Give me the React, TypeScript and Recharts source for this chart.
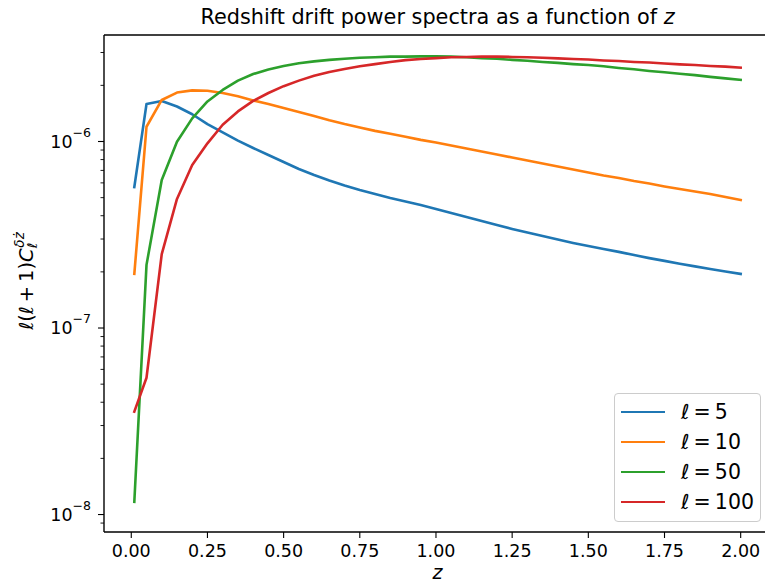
import {
  LineChart,
  Line,
  XAxis,
  YAxis,
  Legend,
  ReferenceLine,
  Customized,
} from "recharts";

// redshift samples
const zValues = [
  0.01, 0.05, 0.1, 0.15, 0.2, 0.25, 0.3, 0.35, 0.4, 0.45, 0.5, 0.55, 0.6, 0.65,
  0.7, 0.75, 0.8, 0.85, 0.9, 0.95, 1.0, 1.05, 1.1, 1.15, 1.2, 1.25, 1.3, 1.35,
  1.4, 1.45, 1.5, 1.55, 1.6, 1.65, 1.7, 1.75, 1.8, 1.85, 1.9, 1.95, 2.0,
];

// l(l+1) C_l values
const ell5 = [
  5.7e-7, 1.59e-6, 1.65e-6, 1.54e-6, 1.4e-6, 1.24e-6, 1.12e-6, 1.01e-6, 9.23e-7,
  8.46e-7, 7.76e-7, 7.12e-7, 6.61e-7, 6.18e-7, 5.81e-7, 5.49e-7, 5.23e-7,
  4.98e-7, 4.77e-7, 4.56e-7, 4.35e-7, 4.14e-7, 3.94e-7, 3.75e-7, 3.57e-7,
  3.4e-7, 3.25e-7, 3.11e-7, 2.98e-7, 2.86e-7, 2.75e-7, 2.65e-7, 2.56e-7,
  2.46e-7, 2.37e-7, 2.29e-7, 2.21e-7, 2.14e-7, 2.07e-7, 2.01e-7, 1.95e-7,
];
const ell10 = [
  1.95e-7, 1.2e-6, 1.67e-6, 1.83e-6, 1.88e-6, 1.87e-6, 1.82e-6, 1.75e-6, 1.66e-6,
  1.59e-6, 1.51e-6, 1.44e-6, 1.37e-6, 1.3e-6, 1.24e-6, 1.19e-6, 1.14e-6, 1.1e-6,
  1.06e-6, 1.02e-6, 9.88e-7, 9.52e-7, 9.17e-7, 8.84e-7, 8.52e-7, 8.21e-7,
  7.91e-7, 7.62e-7, 7.35e-7, 7.08e-7, 6.82e-7, 6.57e-7, 6.37e-7, 6.14e-7,
  5.95e-7, 5.74e-7, 5.56e-7, 5.39e-7, 5.23e-7, 5.04e-7, 4.86e-7,
];
const ell50 = [
  1.17e-8, 2.18e-7, 6.22e-7, 9.97e-7, 1.33e-6, 1.64e-6, 1.89e-6, 2.12e-6, 2.3e-6,
  2.43e-6, 2.54e-6, 2.63e-6, 2.69e-6, 2.74e-6, 2.78e-6, 2.81e-6, 2.83e-6,
  2.85e-6, 2.85e-6, 2.86e-6, 2.86e-6, 2.85e-6, 2.83e-6, 2.8e-6, 2.78e-6,
  2.74e-6, 2.71e-6, 2.67e-6, 2.64e-6, 2.6e-6, 2.57e-6, 2.53e-6, 2.48e-6,
  2.44e-6, 2.39e-6, 2.35e-6, 2.31e-6, 2.27e-6, 2.22e-6, 2.18e-6, 2.14e-6,
];
const ell100 = [
  3.56e-8, 5.41e-8, 2.49e-7, 4.92e-7, 7.48e-7, 9.78e-7, 1.23e-6, 1.45e-6,
  1.65e-6, 1.82e-6, 1.98e-6, 2.12e-6, 2.25e-6, 2.36e-6, 2.45e-6, 2.53e-6,
  2.6e-6, 2.67e-6, 2.73e-6, 2.77e-6, 2.8e-6, 2.83e-6, 2.84e-6, 2.85e-6, 2.85e-6,
  2.84e-6, 2.83e-6, 2.81e-6, 2.79e-6, 2.77e-6, 2.75e-6, 2.72e-6, 2.7e-6,
  2.67e-6, 2.65e-6, 2.62e-6, 2.59e-6, 2.57e-6, 2.54e-6, 2.52e-6, 2.49e-6,
];

const ells = [5, 10, 50, 100];
const colors = ["#1f77b4", "#ff7f0e", "#2ca02c", "#d62728"];
const seriesKeys = ["l5", "l10", "l50", "l100"];

const xTicks = [0, 0.25, 0.5, 0.75, 1.0, 1.25, 1.5, 1.75, 2.0];
const yTicks = [
  9e-9, 1e-8, 2e-8, 3e-8, 4e-8, 5e-8, 6e-8, 7e-8, 8e-8, 9e-8, 1e-7, 2e-7, 3e-7,
  4e-7, 5e-7, 6e-7, 7e-7, 8e-7, 9e-7, 1e-6, 2e-6, 3e-6,
];

const X_DOMAIN = [-0.0895, 2.0995];
const Y_DOMAIN = [8.06e-9, 3.724e-6];

const data = zValues.map((z, i) => ({
  z,
  l5: ell5[i],
  l10: ell10[i],
  l50: ell50[i],
  l100: ell100[i],
}));

const FONT = "'DejaVu Sans', sans-serif";

const XTick = ({ x, y, payload }: any) => (
  <g>
    <line x1={x} x2={x} y1={y} y2={y + 6} stroke="#000" strokeWidth={1.1} />
    <text
      x={x}
      y={y + 25}
      textAnchor="middle"
      fontSize={17.5}
      fontFamily={FONT}
      fill="#000"
    >
      {Number(payload.value).toFixed(2)}
    </text>
  </g>
);

const YTick = ({ x, y, payload }: any) => {
  const v = payload.value;
  const exp = Math.round(Math.log10(v));
  const major = Math.abs(v / Math.pow(10, exp) - 1) < 1e-6;
  return (
    <g>
      <line
        x1={x - (major ? 6 : 3.5)}
        x2={x}
        y1={y}
        y2={y}
        stroke="#000"
        strokeWidth={major ? 1.1 : 0.9}
      />
      {major && (
        <text
          x={x - 13}
          y={y + 6}
          textAnchor="end"
          fontSize={17.5}
          fontFamily={FONT}
          fill="#000"
        >
          10
          <tspan dy={-11} fontSize={12.5}>
            {"\u2212" + Math.abs(exp)}
          </tspan>
        </text>
      )}
    </g>
  );
};

const Labels = () => (
  <g fontFamily={FONT} fill="#000">
    <text x={437.5} y={24} textAnchor="middle" fontSize={20.8}>
      Redshift drift power spectra as a function of{" "}
      <tspan fontStyle="italic">z</tspan>
    </text>
    <text x={437.5} y={579} textAnchor="middle" fontSize={19} fontStyle="italic">
      z
    </text>
    <text
      transform="translate(33, 281) rotate(-90)"
      textAnchor="middle"
      fontSize={19.5}
    >
      <tspan fontStyle="italic">ℓ</tspan>(<tspan fontStyle="italic">ℓ</tspan>
      {"\u2009+\u20091)"}
      <tspan fontStyle="italic">C</tspan>
      <tspan fontSize={13.6} dy={4} fontStyle="italic">
        ℓ
      </tspan>
      <tspan fontSize={13.6} dx={-5} dy={-13} fontStyle="italic">
        {"δz\u0307"}
      </tspan>
    </text>
  </g>
);

const LegendBox = () => (
  <div
    style={{
      boxSizing: "border-box",
      width: 147,
      height: 129,
      paddingTop: 3,
      border: "1px solid #cccccc",
      borderRadius: 4,
      background: "rgba(255,255,255,0.8)",
      fontFamily: FONT,
    }}
  >
    {ells.map((ell, i) => (
      <div
        key={ell}
        style={{ display: "flex", alignItems: "center", height: 30 }}
      >
        <div
          style={{
            marginLeft: 6,
            width: 44,
            height: 2.6,
            background: colors[i],
          }}
        />
        <span style={{ marginLeft: 16, fontSize: 20.5, color: "#000" }}>
          <i>ℓ</i>
          {"\u2009=\u2009" + ell}
        </span>
      </div>
    ))}
  </div>
);

export default function App() {
  return (
    <div
      style={{
        position: "absolute",
        left: 0,
        top: 0,
        width: 765,
        height: 584,
        overflow: "hidden",
        background: "#fff",
      }}
    >
      <LineChart
        width={780}
        height={584}
        data={data}
        margin={{ top: 35, right: 9, bottom: 0, left: 0 }}
      >
        <XAxis
          dataKey="z"
          type="number"
          domain={X_DOMAIN}
          allowDataOverflow
          ticks={xTicks}
          interval={0}
          height={52}
          tickLine={false}
          tickSize={0}
          tickMargin={0}
          tick={(p: any) => <XTick {...p} />}
          axisLine={{ stroke: "#000", strokeWidth: 1.4 }}
        />
        <YAxis
          type="number"
          scale="log"
          domain={Y_DOMAIN}
          allowDataOverflow
          ticks={yTicks}
          interval={0}
          width={104}
          tickLine={false}
          tickSize={0}
          tickMargin={0}
          tick={(p: any) => <YTick {...p} />}
          axisLine={{ stroke: "#000", strokeWidth: 1.4 }}
        />
        <ReferenceLine y={Y_DOMAIN[1]} stroke="#000" strokeWidth={1.4} />
        {seriesKeys.map((k, i) => (
          <Line
            key={k}
            dataKey={k}
            type="linear"
            stroke={colors[i]}
            strokeWidth={2.6}
            strokeLinejoin="round"
            strokeLinecap="square"
            dot={false}
            activeDot={false}
            isAnimationActive={false}
          />
        ))}
        <Legend
          layout="vertical"
          align="center"
          verticalAlign="middle"
          wrapperStyle={{ left: 614, top: 393, width: 147, height: 129 }}
          content={() => <LegendBox />}
        />
        <Customized component={Labels} />
      </LineChart>
    </div>
  );
}
